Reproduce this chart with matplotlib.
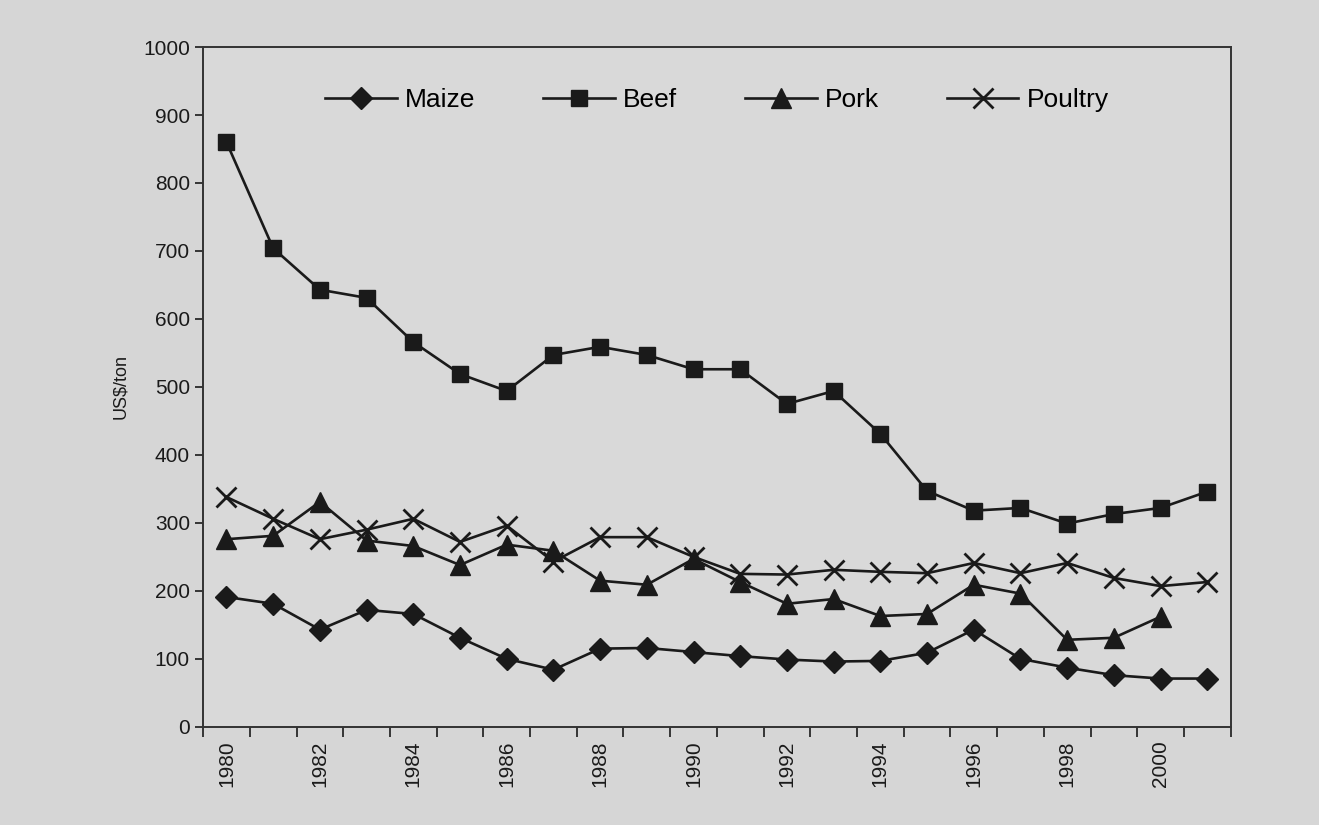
import matplotlib.pyplot as plt
import numpy as np

years = list(range(1980, 2002))
maize = [191, 181, 143, 172, 166, 131, 100, 84, 115, 116, 110, 104,
         99, 96, 97, 109, 143, 100, 87, 76, 71, 71]
beef = [860, 704, 643, 631, 566, 519, 494, 547, 559, 547, 526, 526,
        475, 494, 431, 347, 318, 322, 299, 313, 322, 346]
pork = [276, 281, 331, 274, 266, 238, 268, 259, 215, 209, 247, 213,
        181, 188, 163, 166, 209, 196, 128, 131, 162]
poultry = [338, 306, 276, 290, 306, 272, 296, 243, 279, 279, 250, 225,
           224, 231, 228, 226, 241, 226, 241, 219, 207, 213]

plt.rcParams['font.family'] = ['Liberation Sans Narrow', 'Liberation Sans', 'DejaVu Sans']

bg = '#d6d6d6'
ink = '#1a1a1a'

fig = plt.figure(figsize=(13.19, 8.25), dpi=100, facecolor=bg)
ax = fig.add_axes([0.154, 0.119, 0.779, 0.824])
ax.set_facecolor('#d9d9d9')

x = np.arange(len(years))
style = dict(color=ink, lw=1.9)
ax.plot(x, maize, marker='D', ms=11, label='Maize', **style)
ax.plot(x, beef, marker='s', ms=12, label='Beef', **style)
ax.plot(x[:len(pork)], pork, marker='^', ms=14, label='Pork', **style)
ax.plot(x, poultry, marker='x', ms=14, mew=2, label='Poultry', **style)

ax.set_xlim(-0.5, len(years) - 0.5)
ax.set_ylim(0, 1000)
ax.set_yticks(np.arange(0, 1001, 100))
ax.tick_params(axis='y', labelsize=15, colors=ink, length=6, width=1.2)

# category axis: ticks between years, labels every other year
ax.set_xticks(np.arange(-0.5, len(years), 1))
ax.set_xticklabels([])
ax.set_xticks(x[::2], minor=True)
ax.set_xticklabels([str(y) for y in years[::2]], minor=True, rotation=90, fontsize=15)
ax.tick_params(axis='x', which='major', length=7, width=1.2, colors=ink)
ax.tick_params(axis='x', which='minor', length=0, pad=10, colors=ink)

for s in ax.spines.values():
    s.set_color('#333333')
    s.set_linewidth(1.4)

ax.set_ylabel('US$/ton', fontsize=13, color=ink, labelpad=10)

ax.legend(loc='upper center', bbox_to_anchor=(0.5, 0.975), ncol=4, frameon=False,
          fontsize=19, handlelength=2.7, columnspacing=2.6, handletextpad=0.3)

plt.savefig('out.png', dpi=100, facecolor=bg)
